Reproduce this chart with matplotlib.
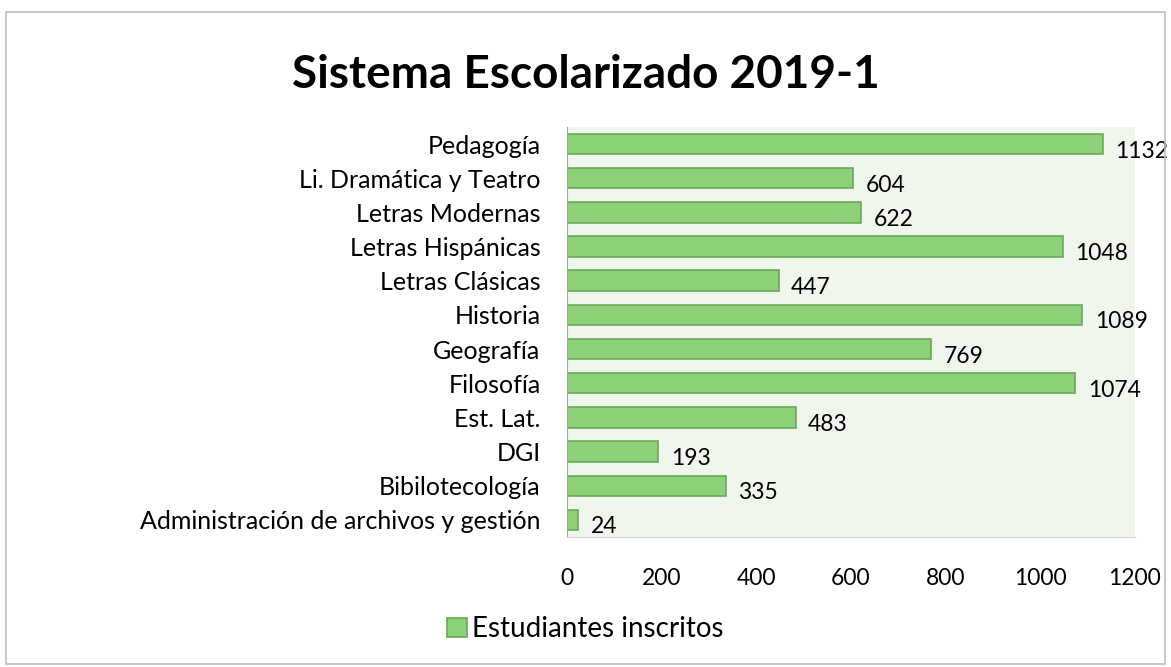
import matplotlib
matplotlib.use("Agg")
import matplotlib.pyplot as plt
from matplotlib.patches import Rectangle

# === Données ===
carreras = ["Administración de archivos y gestión", "Bibilotecología", "DGI", "Est. Lat.",
            "Filosofía", "Geografía", "Historia", "Letras Clásicas", "Letras Hispánicas",
            "Letras Modernas", "Li. Dramática y Teatro", "Pedagogía"]
inscritos = [24, 335, 193, 483, 1074, 769, 1089, 447, 1048, 622, 604, 1132]
xticks = [0, 200, 400, 600, 800, 1000, 1200]

plt.rcParams["font.family"] = ["Lato", "DejaVu Sans"]

fig = plt.figure(figsize=(11.71, 6.67), dpi=100)
fig.patches.append(Rectangle((0.005, 0.005), 0.99, 0.977, transform=fig.transFigure,
                             fill=False, edgecolor="#bfbfbf", linewidth=1.2))

ax = fig.add_axes([0.4842, 0.1949, 0.485, 0.6147])
ax.set_facecolor("#eff6ec")

bars = ax.barh(carreras, inscritos, height=0.6, color="#8cd077", edgecolor="#6aa85a",
               linewidth=1.2, label="Estudiantes inscritos")

for b, v in zip(bars, inscritos):
    ax.annotate(str(v), (b.get_width(), b.get_y() + b.get_height() / 2),
                xytext=(9, -5), textcoords="offset points", va="center", ha="left",
                fontsize=16.5, color="#000000", annotation_clip=False)

ax.set_xlim(0, 1200)
ax.set_ylim(-0.5, len(carreras) - 0.5)
ax.set_xticks(xticks)
ax.tick_params(axis="x", length=0, labelsize=16.5, pad=22)
ax.tick_params(axis="y", length=0, labelsize=18, pad=19)
for s in ["top", "right"]:
    ax.spines[s].set_visible(False)
ax.spines["left"].set_color("#a6a6a6")
ax.spines["bottom"].set_color("#d9d9d9")

fig.text(0.5, 0.888, "Sistema Escolarizado 2019-1", ha="center", va="center",
         fontsize=33, fontweight="bold")

fig.legend(loc="center", bbox_to_anchor=(0.5, 0.057), frameon=False, fontsize=20,
           handlelength=0.7, handleheight=0.7, handletextpad=0.2)

fig.savefig("out.png", dpi=100)
